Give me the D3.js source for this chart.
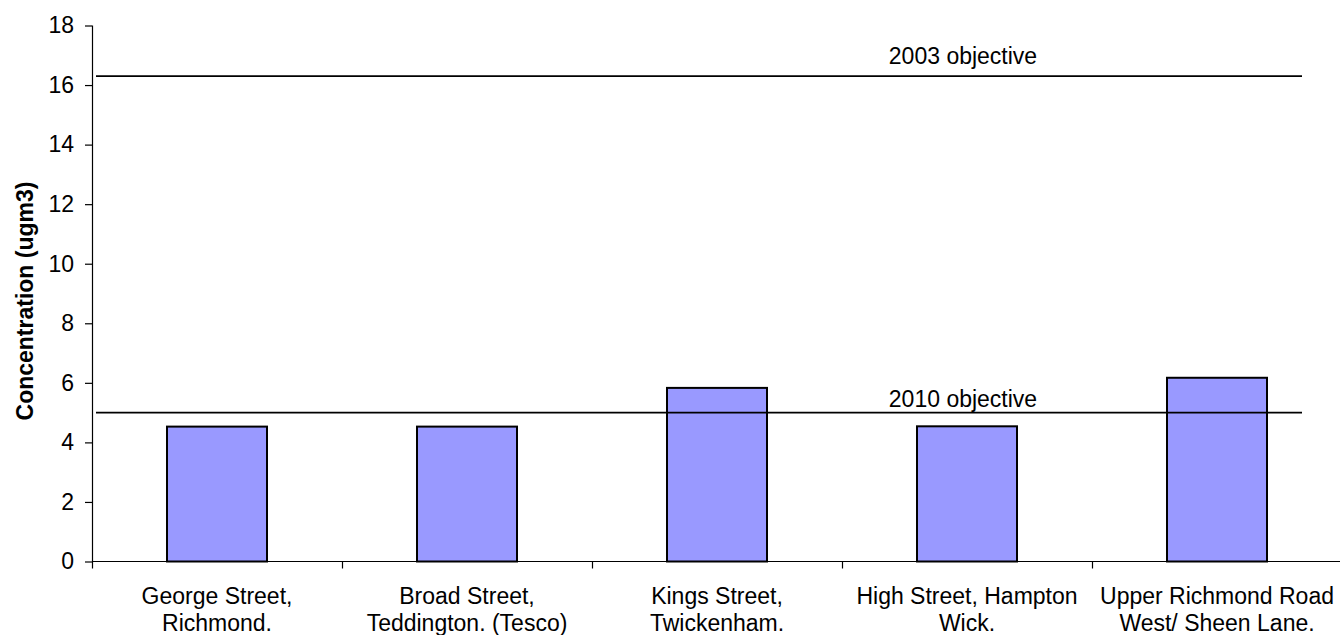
<!DOCTYPE html>
<html>
<head>
<meta charset="utf-8">
<script src="https://cdn.jsdelivr.net/npm/d3@7"></script>
<style>
  html, body { margin: 0; padding: 0; background: #fff; }
  svg { display: block; font-family: "Liberation Sans", Arial, sans-serif; }
</style>
</head>
<body>
<svg id="chart" width="1340" height="635"></svg>
<script>
// Monitoring sites (each label split over two lines)
const sites = [
  ["George Street,", "Richmond."],
  ["Broad Street,", "Teddington. (Tesco)"],
  ["Kings Street,", "Twickenham."],
  ["High Street, Hampton", "Wick."],
  ["Upper Richmond Road", "West/ Sheen Lane."]
];
// Measured concentration at each site (ugm3)
const concentrations = [4.53, 4.53, 5.83, 4.54, 6.17];
// Air quality objectives drawn as reference lines
const objectiveNames = ["2003 objective", "2010 objective"];
const objectiveValues = [16.3, 5.0];
const labelGaps = [12, 6];
// Y-axis ticks
const yTicks = [0, 2, 4, 6, 8, 10, 12, 14, 16, 18];

const svg = d3.select("#chart");
const plotLeft = 92, plotRight = 1342, plotTop = 25.5, plotBottom = 561.5;

const x = d3.scaleBand()
  .domain(d3.range(sites.length))
  .range([plotLeft, plotRight])
  .paddingInner(0.6)
  .paddingOuter(0.3);
const xOuter = d3.scaleBand()
  .domain(d3.range(sites.length))
  .range([plotLeft, plotRight]);
const y = d3.scaleLinear().domain([0, 18]).range([plotBottom, plotTop]);

// Bars
svg.append("g").selectAll("rect")
  .data(concentrations)
  .join("rect")
  .attr("x", (d, i) => x(i))
  .attr("width", x.bandwidth())
  .attr("y", d => y(d))
  .attr("height", d => y(0) - y(d))
  .attr("fill", "#9999ff")
  .attr("stroke", "#000")
  .attr("stroke-width", 2);

// Objective lines with labels
const obj = svg.append("g");
obj.selectAll("line")
  .data(objectiveValues)
  .join("line")
  .attr("x1", plotLeft + 4)
  .attr("x2", 1302)
  .attr("y1", d => y(d))
  .attr("y2", d => y(d))
  .attr("stroke", "#000")
  .attr("stroke-width", 1.7);
obj.selectAll("text")
  .data(objectiveValues)
  .join("text")
  .attr("x", 963)
  .attr("y", (d, i) => y(d) - labelGaps[i])
  .attr("text-anchor", "middle")
  .attr("font-size", 23)
  .attr("fill", "#000")
  .text((d, i) => objectiveNames[i]);

// Y axis
const yAxis = svg.append("g")
  .attr("transform", `translate(${plotLeft},0)`)
  .call(d3.axisLeft(y).tickValues(yTicks).tickSize(7).tickPadding(11).tickSizeOuter(0));
yAxis.select(".domain").attr("d", `M0.5,${plotTop}V${plotBottom + 7}`);
yAxis.selectAll("line").attr("stroke", "#000").attr("stroke-width", 1.2);
yAxis.selectAll("path").attr("stroke", "#000").attr("stroke-width", 1.2);
yAxis.selectAll("text")
  .attr("font-size", 23)
  .attr("font-family", "'Liberation Sans', Arial, sans-serif")
  .attr("fill", "#000");

// X axis: baseline with ticks between categories
const xg = svg.append("g");
xg.append("line")
  .attr("x1", plotLeft).attr("x2", 1340)
  .attr("y1", y(0)).attr("y2", y(0))
  .attr("stroke", "#000").attr("stroke-width", 1.2);
xg.selectAll("line.tick")
  .data(d3.range(1, sites.length))
  .join("line")
  .attr("class", "tick")
  .attr("x1", i => xOuter(i) + 0.5)
  .attr("x2", i => xOuter(i) + 0.5)
  .attr("y1", y(0))
  .attr("y2", y(0) + 7)
  .attr("stroke", "#000").attr("stroke-width", 1.2);

// Category labels
const cat = xg.selectAll("text.cat")
  .data(sites)
  .join("text")
  .attr("class", "cat")
  .attr("text-anchor", "middle")
  .attr("font-size", 23)
  .attr("fill", "#000");
cat.selectAll("tspan")
  .data((d, i) => d.map(line => ({ line, i })))
  .join("tspan")
  .attr("x", d => xOuter(d.i) + xOuter.bandwidth() / 2)
  .attr("y", (d, j) => 604 + j * 26.5)
  .text(d => d.line);

// Y axis title
svg.append("text")
  .attr("transform", `translate(33,301) rotate(-90)`)
  .attr("text-anchor", "middle")
  .attr("font-size", 23)
  .attr("font-weight", "bold")
  .attr("fill", "#000")
  .text("Concentration (ugm3)");
</script>
</body>
</html>
